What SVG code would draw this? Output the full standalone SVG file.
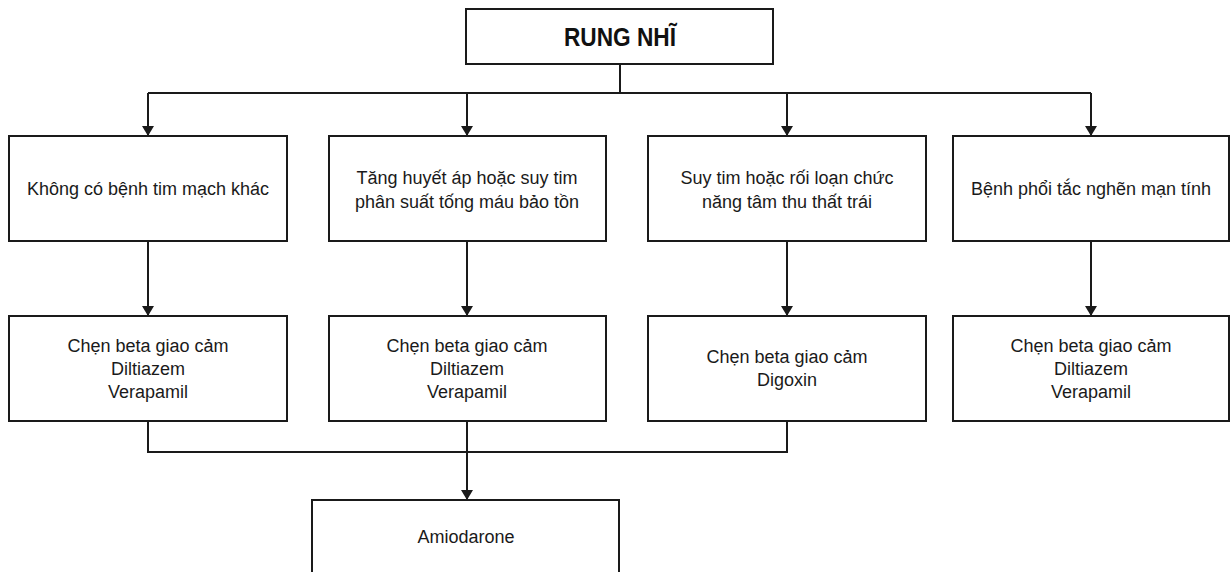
<svg xmlns="http://www.w3.org/2000/svg" width="1232" height="572" viewBox="0 0 1232 572">
  <style>
    .box { fill: #ffffff; stroke: #1a1a1a; stroke-width: 2; }
    .lbl { font-family: "Liberation Sans", Arial, sans-serif; font-size: 18px; fill: #1a1a1a; text-anchor: middle; }
    .title { font-family: "Liberation Sans", Arial, sans-serif; font-size: 25px; font-weight: bold; fill: #111111; text-anchor: middle; }
    .wire { fill: none; stroke: #1a1a1a; stroke-width: 2; }
    .arrow { fill: none; stroke: #1a1a1a; stroke-width: 2; marker-end: url(#head); }
  </style>
  <defs>
    <marker id="head" viewBox="0 0 10 12" refX="10" refY="6" markerWidth="10" markerHeight="12" markerUnits="userSpaceOnUse" orient="auto">
      <path d="M0,0 L10,6 L0,12 Z" fill="#1a1a1a"/>
    </marker>
  </defs>
  <rect width="1232" height="572" fill="#ffffff"/>

  <!-- connectors -->
  <g id="connectors">
    <path class="wire" d="M620,64 V93 M148,93 H1091"/>
    <path class="arrow" d="M148,93 V136"/>
    <path class="arrow" d="M467,93 V136"/>
    <path class="arrow" d="M787,93 V136"/>
    <path class="arrow" d="M1091,93 V136"/>
    <path class="arrow" d="M148,241 V316"/>
    <path class="arrow" d="M467,241 V316"/>
    <path class="arrow" d="M787,241 V316"/>
    <path class="arrow" d="M1091,241 V316"/>
    <path class="wire" d="M148,421 V452 H787 V421"/>
    <path class="arrow" d="M467,421 V500"/>
  </g>

  <g id="rung-nhi">
    <rect class="box" x="466" y="9" width="307" height="55"/>
    <text class="title" x="620" y="46" textLength="112" lengthAdjust="spacingAndGlyphs">RUNG NHĨ</text>
  </g>

  <g id="khong-benh">
    <rect class="box" x="9" y="136" width="278" height="105"/>
    <text class="lbl" x="148" y="195">Không có bệnh tim mạch khác</text>
  </g>
  <g id="tang-huyet-ap">
    <rect class="box" x="329" y="136" width="277" height="105"/>
    <text class="lbl" x="467" y="184">Tăng huyết áp hoặc suy tim</text>
    <text class="lbl" x="467" y="208">phân suất tống máu bảo tồn</text>
  </g>
  <g id="suy-tim">
    <rect class="box" x="648" y="136" width="278" height="105"/>
    <text class="lbl" x="787" y="184">Suy tim hoặc rối loạn chức</text>
    <text class="lbl" x="787" y="208">năng tâm thu thất trái</text>
  </g>
  <g id="copd">
    <rect class="box" x="953" y="136" width="276" height="105"/>
    <text class="lbl" x="1091" y="195">Bệnh phổi tắc nghẽn mạn tính</text>
  </g>

  <g id="thuoc-1">
    <rect class="box" x="9" y="316" width="278" height="105"/>
    <text class="lbl" x="148" y="352">Chẹn beta giao cảm</text>
    <text class="lbl" x="148" y="375">Diltiazem</text>
    <text class="lbl" x="148" y="398">Verapamil</text>
  </g>
  <g id="thuoc-2">
    <rect class="box" x="329" y="316" width="277" height="105"/>
    <text class="lbl" x="467" y="352">Chẹn beta giao cảm</text>
    <text class="lbl" x="467" y="375">Diltiazem</text>
    <text class="lbl" x="467" y="398">Verapamil</text>
  </g>
  <g id="thuoc-3">
    <rect class="box" x="648" y="316" width="278" height="105"/>
    <text class="lbl" x="787" y="363">Chẹn beta giao cảm</text>
    <text class="lbl" x="787" y="386">Digoxin</text>
  </g>
  <g id="thuoc-4">
    <rect class="box" x="953" y="316" width="276" height="105"/>
    <text class="lbl" x="1091" y="352">Chẹn beta giao cảm</text>
    <text class="lbl" x="1091" y="375">Diltiazem</text>
    <text class="lbl" x="1091" y="398">Verapamil</text>
  </g>

  <g id="amiodarone">
    <rect class="box" x="312" y="500" width="307" height="100"/>
    <text class="lbl" x="466" y="543">Amiodarone</text>
  </g>
</svg>
